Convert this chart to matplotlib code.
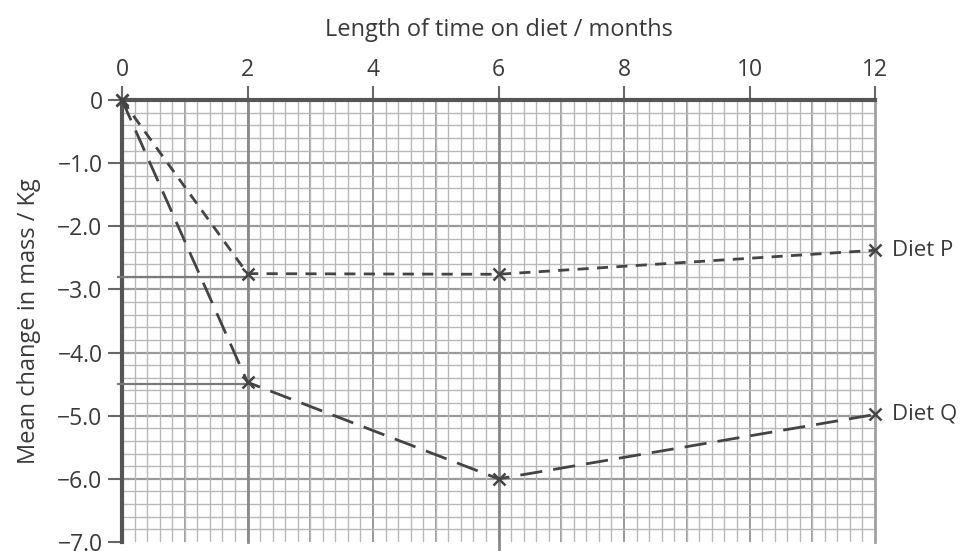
import numpy as np
import matplotlib
matplotlib.use("Agg")
from matplotlib import pyplot as plt
from matplotlib.ticker import MultipleLocator

# data
months = [0, 2, 6, 12]
diet_p = [0, -2.75, -2.76, -2.38]
diet_q = [0, -4.47, -6.0, -4.98]
# guide lines drawn from the y axis to the points at 2 months
guide_y = [-2.8, -4.5]
x_ticks = [0, 2, 4, 6, 8, 10, 12]
y_ticks = [0, -1, -2, -3, -4, -5, -6, -7]
y_labels = ["0", "\u22121.0", "\u22122.0", "\u22123.0", "\u22124.0", "\u22125.0", "\u22126.0", "\u22127.0"]

plt.rcParams["font.family"] = ["Open Sans", "DejaVu Sans"]

fig = plt.figure(figsize=(9.64, 5.51), dpi=100)
ax = fig.add_axes([122 / 964, 1 - 542 / 551, 753 / 964, 442 / 551])
ax.set_xlim(0, 12)
ax.set_ylim(-7, 0)

# graph paper
ax.xaxis.set_minor_locator(MultipleLocator(0.2))
ax.yaxis.set_minor_locator(MultipleLocator(0.2))
ax.grid(which="minor", color="#b8b8b8", linewidth=1.0)
for x in range(1, 12):
    ax.axvline(x, color="#9a9a9a", linewidth=1.4, zorder=1)
for y in range(-6, 0):
    ax.axhline(y, color="#9a9a9a", linewidth=1.6, zorder=1)
# darker lines at 2 and 6 months
for x in [2, 6]:
    ax.plot([x, x], [-7.15 if x == 6 else -7, 0], color="#8a8a8a",
            linewidth=2.0, clip_on=False, zorder=2)

ax.set_xticks(x_ticks)
ax.set_yticks(y_ticks)
ax.set_yticklabels(y_labels)
ax.xaxis.tick_top()
ax.xaxis.set_label_position("top")
ax.tick_params(which="major", direction="out", length=10, width=1.5,
               color="#666666", labelsize=16.5, labelcolor="#3a3a3a")
ax.tick_params(axis="x", pad=3)
ax.tick_params(axis="y", pad=4)
ax.tick_params(which="minor", length=0)

for side in ["top", "left"]:
    ax.spines[side].set_color("#555555")
    ax.spines[side].set_linewidth(3)
ax.spines["right"].set_color("#a0a0a0")
ax.spines["right"].set_linewidth(2)
ax.spines["bottom"].set_visible(False)

for y in guide_y:
    ax.plot([-0.06, 2], [y, y], color="#7a7a7a", linewidth=1.6,
            clip_on=False, zorder=3)

ax.plot(months, diet_p, color="#444444", linewidth=2, dashes=(4, 3),
        marker="x", markersize=9, markeredgewidth=1.8, clip_on=False, zorder=4)
ax.plot(months, diet_q, color="#444444", linewidth=2, dashes=(8, 4),
        marker="x", markersize=9, markeredgewidth=1.8, clip_on=False, zorder=4)

ax.text(12.27, diet_p[-1], "Diet P", fontsize=16, color="#3a3a3a", va="center")
ax.text(12.27, diet_q[-1], "Diet Q", fontsize=16, color="#3a3a3a", va="center")

ax.set_xlabel("Length of time on diet / months", fontsize=17, color="#3a3a3a", labelpad=16)
ax.set_ylabel("Mean change in mass / Kg", fontsize=17, color="#3a3a3a", labelpad=12)

fig.savefig("out.png", dpi=100)
